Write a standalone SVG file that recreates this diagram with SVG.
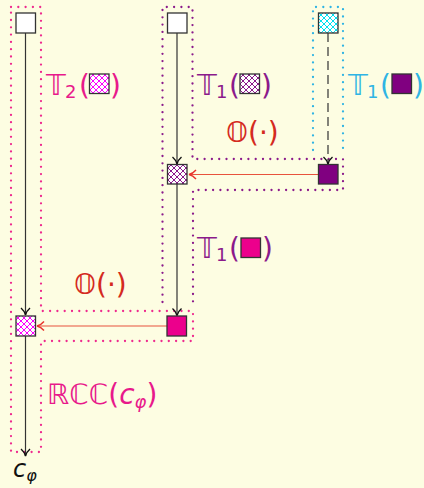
<svg xmlns="http://www.w3.org/2000/svg" width="424" height="488" viewBox="0 0 424 488">
<defs>
<style>
.bx{stroke:#333;stroke-width:1.3}
.ln{stroke:#333;stroke-width:1.2;fill:none}
.rd{stroke:#e8533c;stroke-width:1.2;fill:none}
.dot{fill:none;stroke-width:2.3;stroke-linecap:round;stroke-dasharray:0 7.3}
.t{font-family:"DejaVu Sans",sans-serif;font-size:28px}
.s{font-family:"DejaVu Sans",sans-serif;font-size:18px}
.pk{fill:#e8198b}.pu{fill:#8b1a8b}.cy{fill:#2fb4e4}.re{fill:#d42a20}
</style>
<pattern id="hm" width="6" height="6" patternUnits="userSpaceOnUse"><rect width="6" height="6" fill="#fff"/><path d="M0,0L6,6M6,0L0,6" stroke="#ff00ff" stroke-width="1"/></pattern>
<pattern id="hp" width="6" height="6" patternUnits="userSpaceOnUse"><rect width="6" height="6" fill="#fff"/><path d="M0,0L6,6M6,0L0,6" stroke="#8b1a8b" stroke-width="1"/></pattern>
<pattern id="hc" width="6" height="6" patternUnits="userSpaceOnUse"><rect width="6" height="6" fill="#fff"/><path d="M0,0L6,6M6,0L0,6" stroke="#00e0f0" stroke-width="1"/></pattern>
<marker id="ab" viewBox="-6 -8 12 9" refX="0" refY="0" markerWidth="12" markerHeight="9" markerUnits="userSpaceOnUse" orient="auto" overflow="visible"><path d="M-4.5,-7Q-1,-4 0,0Q1,-4 4.5,-7" fill="none" stroke="#111" stroke-width="1.4" transform="rotate(-90)"/></marker>
<marker id="ar" viewBox="-6 -8 12 9" refX="0" refY="0" markerWidth="12" markerHeight="9" markerUnits="userSpaceOnUse" orient="auto" overflow="visible"><path d="M-4.5,-7Q-1,-4 0,0Q1,-4 4.5,-7" fill="none" stroke="#e8332c" stroke-width="1.4" transform="rotate(-90)"/></marker>
</defs>
<rect width="424" height="488" fill="#fdfde2"/>
<g id="regions">
<path class="dot" stroke="#ee2a8e" d="M11,7H41V311H193V341H41V452H11Z"/>
<path class="dot" stroke="#8b1a8b" d="M162.5,302V7H192.5V159H343V190H193V302"/>
<path class="dot" stroke="#2fb4e4" d="M313,150V7H343V150"/>
</g>
<g id="connectors">
<path class="ln" d="M25.5,33V315" marker-end="url(#ab)"/>
<path class="ln" d="M25.5,336V456" marker-end="url(#ab)"/>
<path class="ln" d="M177,33V164" marker-end="url(#ab)"/>
<path class="ln" d="M177,184V315.5" marker-end="url(#ab)"/>
<path class="ln" d="M328,33V164" stroke="#111" stroke-dasharray="9 5" marker-end="url(#ab)"/>
<path class="rd" d="M318,174.5H189" marker-end="url(#ar)"/>
<path class="rd" d="M167,326H37" marker-end="url(#ar)"/>
</g>
<g id="n1"><rect class="bx" x="16" y="13" width="19.5" height="20" fill="#fff"/></g>
<g id="n2"><rect class="bx" x="167.5" y="13" width="19.5" height="20" fill="#fff"/></g>
<g id="n3"><rect class="bx" x="318.5" y="13" width="19.5" height="20" fill="url(#hc)"/></g>
<g id="n4"><rect class="bx" x="167.5" y="164.5" width="19.5" height="19.5" fill="url(#hp)"/></g>
<g id="n5"><rect class="bx" x="318.5" y="164.5" width="19.5" height="19.5" fill="#800080"/></g>
<g id="n6"><rect class="bx" x="16" y="316" width="19.5" height="20" fill="url(#hm)"/></g>
<g id="n7"><rect class="bx" x="167" y="316" width="19.5" height="20" fill="#ec008c"/></g>
<g id="n8"><text x="13" y="477" font-family="DejaVu Sans,sans-serif" font-size="24" font-style="italic" fill="#111">c<tspan font-size="16" dy="4">φ</tspan></text></g>
<g id="labels">
<g class="pk"><text class="t" x="46" y="95">𝕋</text><text class="s" x="65" y="98">2</text><text class="t" x="79" y="95">(</text><rect class="bx" x="89.5" y="74" width="19.5" height="19.5" fill="url(#hm)"/><text class="t" x="110" y="95">)</text></g>
<g class="pu"><text class="t" x="197" y="95">𝕋</text><text class="s" x="216" y="98">1</text><text class="t" x="229" y="95">(</text><rect class="bx" x="240" y="74" width="19.5" height="19.5" fill="url(#hp)"/><text class="t" x="261" y="95">)</text></g>
<g class="cy"><text class="t" x="348" y="95">𝕋</text><text class="s" x="367" y="98">1</text><text class="t" x="380" y="95">(</text><rect class="bx" x="392" y="74" width="19.5" height="19.5" fill="#800080"/><text class="t" x="413" y="95">)</text></g>
<g class="pu"><text class="t" x="197" y="258">𝕋</text><text class="s" x="216" y="261">1</text><text class="t" x="229" y="258">(</text><rect class="bx" x="241" y="238" width="19.5" height="19.5" fill="#ec008c"/><text class="t" x="262" y="258">)</text></g>
<text class="t re" x="226" y="142">𝕆(·)</text>
<text class="t re" x="74" y="294">𝕆(·)</text>
<text class="t pk" x="47" y="404">ℝℂℂ(<tspan font-style="italic">c</tspan><tspan font-size="18" font-style="italic" dy="4">φ</tspan><tspan dy="-4">)</tspan></text>
</g>
</svg>
